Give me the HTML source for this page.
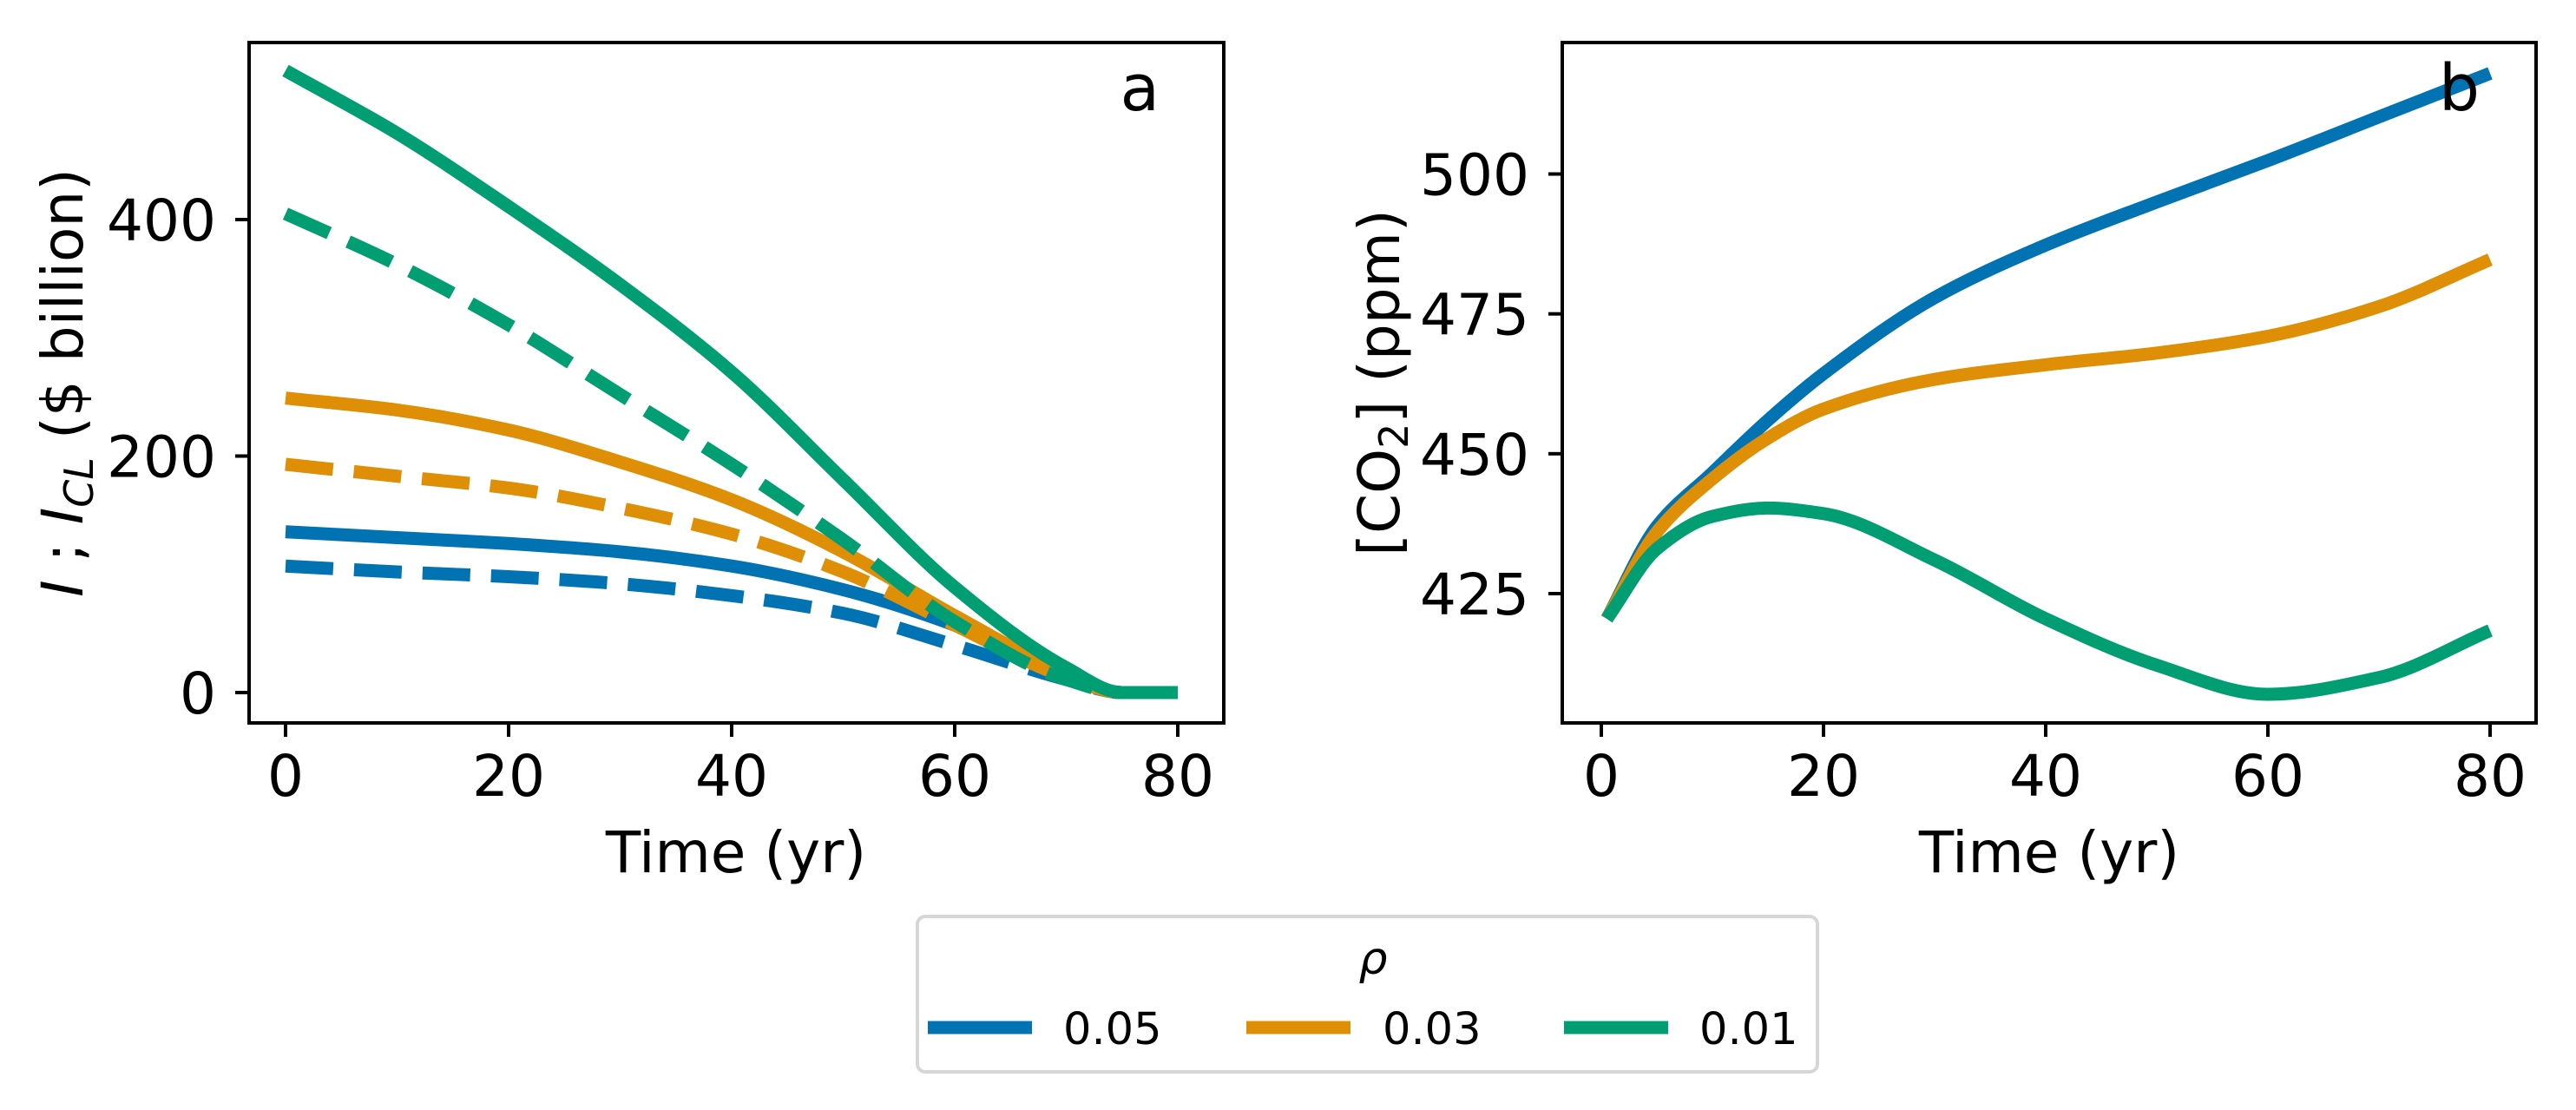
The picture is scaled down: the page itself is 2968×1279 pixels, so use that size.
<!DOCTYPE html>
<html><head><meta charset="utf-8"><style>
html,body{margin:0;padding:0;background:#fff;}
svg{display:block;font-family:"DejaVu Sans","Liberation Sans",sans-serif;}
</style></head><body>
<svg id="fig" width="2968" height="1279" viewBox="0 0 2968 1279" xmlns="http://www.w3.org/2000/svg">
<rect width="2968" height="1279" fill="#fff"/>
<g id="pa"></g>
<g id="pb"></g>
<g id="legend">
  <rect x="1057" y="1056" width="1037" height="179" rx="9" fill="#fff" stroke="#d6d6d6" stroke-width="4"/>
  <text x="1582" y="1122" font-size="52" font-style="italic" text-anchor="middle">ρ</text>
  <line x1="1069" y1="1184" x2="1189" y2="1184" stroke="#0173B2" stroke-width="15"/>
  <text x="1225" y="1203" font-size="51">0.05</text>
  <line x1="1436" y1="1184" x2="1556" y2="1184" stroke="#DE8F05" stroke-width="15"/>
  <text x="1593" y="1203" font-size="51">0.03</text>
  <line x1="1802" y1="1184" x2="1922" y2="1184" stroke="#029E73" stroke-width="15"/>
  <text x="1958" y="1203" font-size="51">0.01</text>
</g>
</svg>
<script>
const colors = ["#0173B2", "#DE8F05", "#029E73"];
const seriesNames = ["0.05", "0.03", "0.01"];
// Panel a
const tA = [0, 10, 20, 30, 40, 50, 60, 70, 75, 80];
const aSolid005 = [136, 131, 126, 119, 107, 87, 57, 16, 0, 0];
const aSolid003 = [249, 239, 222, 195, 163, 119, 65, 16, 0, 0];
const aSolid001 = [526, 473, 411, 345, 271, 180, 89, 21, 0, 0];
const aDash005 = [107, 102, 98, 92, 82, 67, 40, 11, 0, 0];
const aDash003 = [193, 183, 173, 156, 134, 102, 57, 13, 0, 0];
const aDash001 = [405, 362, 311, 252, 193, 129, 60, 11, 0, 0];
const aXTicks = [0, 20, 40, 60, 80];
const aYTicks = [0, 200, 400];
// Panel b
const tB = [0.5, 5, 10, 15, 20, 30, 40, 50, 60, 70, 80];
const b005 = [420.5, 437, 446.6, 456, 464.3, 477.9, 487.3, 495, 502.4, 510.2, 518];
const b003 = [420.5, 436, 445.5, 452.8, 458, 463.3, 465.9, 468, 471, 476.3, 484.7];
const b001 = [420.5, 433, 438.8, 440.3, 439.3, 431, 420.5, 412.2, 407, 410, 418.4];
const bXTicks = [0, 20, 40, 60, 80];
const bYTicks = [425, 450, 475, 500];

const NS = "http://www.w3.org/2000/svg";
function mk(parent, tag, attrs, txt) {
  const e = document.createElementNS(NS, tag);
  for (const k in attrs) e.setAttribute(k, attrs[k]);
  if (txt !== undefined) e.textContent = txt;
  parent.appendChild(e);
  return e;
}
// monotone cubic (Fritsch-Carlson) path in pixel space
function smoothPath(xs, ys) {
  const n = xs.length, d = [], m = new Array(n);
  for (let i = 0; i < n - 1; i++) d.push((ys[i + 1] - ys[i]) / (xs[i + 1] - xs[i]));
  m[0] = d[0]; m[n - 1] = d[n - 2];
  for (let i = 1; i < n - 1; i++) {
    if (d[i - 1] * d[i] <= 0) m[i] = 0;
    else {
      const h0 = xs[i] - xs[i - 1], h1 = xs[i + 1] - xs[i];
      const w1 = 2 * h1 + h0, w2 = h1 + 2 * h0;
      m[i] = (w1 + w2) / (w1 / d[i - 1] + w2 / d[i]);
    }
  }
  let p = "M" + xs[0].toFixed(1) + "," + ys[0].toFixed(1);
  for (let i = 0; i < n - 1; i++) {
    const h = (xs[i + 1] - xs[i]) / 3;
    p += " C" + (xs[i] + h).toFixed(1) + "," + (ys[i] + m[i] * h).toFixed(1) + " " +
      (xs[i + 1] - h).toFixed(1) + "," + (ys[i + 1] - m[i + 1] * h).toFixed(1) + " " +
      xs[i + 1].toFixed(1) + "," + ys[i + 1].toFixed(1);
  }
  return p;
}
function axes(g, box, xs, ys, xt, yt, prefix) {
  const [L, T, R, B] = box;
  for (const v of xt) {
    const x = xs(v);
    const tk = mk(g, "line", {x1: x, y1: B, x2: x, y2: B + 16, stroke: "#000", "stroke-width": 4});
    
    
    const tl = mk(g, "text", {x: x, y: 917, "font-size": 66, "text-anchor": "middle"}, String(v));
    
    
  }
  for (const v of yt) {
    const y = ys(v);
    const tk = mk(g, "line", {x1: L - 16, y1: y, x2: L, y2: y, stroke: "#000", "stroke-width": 4});
    
    
    const tl = mk(g, "text", {x: L - 38, y: y + 24, "font-size": 66, "text-anchor": "end"}, String(v));
    
    
  }
}
function frame(g, box, prefix) {
  const [L, T, R, B] = box;
  const f = mk(g, "rect", {x: L, y: T, width: R - L, height: B - T, fill: "none", stroke: "#000", "stroke-width": 4});
  
  
}
function line(g, xs, ys, t, v, color, dashed, name) {
  const p = mk(g, "path", {d: smoothPath(t.map(xs), v.map(ys)), fill: "none", stroke: color, "stroke-width": 15, "stroke-linecap": "butt", "stroke-linejoin": "round"});
  if (dashed) p.setAttribute("stroke-dasharray", "55 24");
  
  
}

// Panel a
const boxA = [287, 49, 1410, 833];
const xA = v => 329 + v * (1357 - 329) / 80;
const yA = v => 798 - v * (798 - 253) / 400;
const ga = document.getElementById("pa");
axes(ga, boxA, xA, yA, aXTicks, aYTicks, "panel-a");
const aSolids = [aSolid005, aSolid003, aSolid001];
const aDashes = [aDash005, aDash003, aDash001];
for (let i = 0; i < 3; i++) {
  line(ga, xA, yA, tA, aDashes[i], colors[i], true, "line-icl-" + seriesNames[i]);
  line(ga, xA, yA, tA, aSolids[i], colors[i], false, "line-i-" + seriesNames[i]);
}
frame(ga, boxA, "panel-a");
let t;
t = mk(ga, "text", {x: 848, y: 1005, "font-size": 66, "text-anchor": "middle"}, "Time (yr)");
 
t = mk(ga, "text", {x: 0, y: 0, "font-size": 66, "text-anchor": "middle", transform: "translate(95,441) rotate(-90)"});
t.innerHTML = '<tspan font-style="italic">I</tspan> ; <tspan font-style="italic">I</tspan><tspan font-style="italic" font-size="46" dy="12">CL</tspan><tspan dy="-12"> ($ billion)</tspan>';
 
t = mk(ga, "text", {x: 1336, y: 127, "font-size": 74, "text-anchor": "end"}, "a");
 

// Panel b
const boxB = [1800, 49, 2922, 833];
const xB = v => 1845 + v * (2869 - 1845) / 80;
const yB = v => 684 - (v - 425) * (684 - 200.5) / 75;
const gb = document.getElementById("pb");
axes(gb, boxB, xB, yB, bXTicks, bYTicks, "panel-b");
const bSeries = [b005, b003, b001];
for (let i = 0; i < 3; i++) line(gb, xB, yB, tB, bSeries[i], colors[i], false, "line-co2-" + seriesNames[i]);
frame(gb, boxB, "panel-b");
t = mk(gb, "text", {x: 2361, y: 1005, "font-size": 66, "text-anchor": "middle"}, "Time (yr)");
 
t = mk(gb, "text", {x: 0, y: 0, "font-size": 66, "text-anchor": "middle", transform: "translate(1612,441) rotate(-90)"});
t.innerHTML = '[CO<tspan font-size="46" dy="10">2</tspan><tspan dy="-10">] (ppm)</tspan>';
 
t = mk(gb, "text", {x: 2857, y: 127, "font-size": 74, "text-anchor": "end"}, "b");
 
</script>
</body></html>
